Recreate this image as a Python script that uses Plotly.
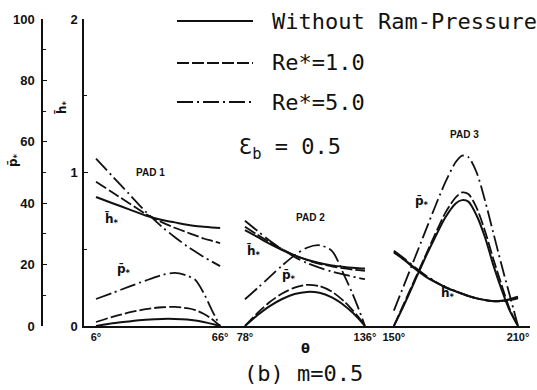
import plotly.graph_objects as go

# ---------------- data ----------------
theta_pad1 = [6, 14, 22, 30, 38, 44, 50, 54, 58, 62, 66]
p_pad1_none = [0.0, 0.9, 1.5, 2.0, 2.3, 2.3, 2.1, 1.8, 1.3, 0.7, 0.0]
p_pad1_re1 = [1.3, 3.0, 4.4, 5.5, 6.1, 6.2, 5.8, 5.2, 4.0, 2.3, 0.0]
p_pad1_re5 = [8.8, 10.8, 12.8, 14.8, 16.6, 17.3, 16.4, 15.0, 10.8, 5.2, 0.0]
h_pad1_none = [0.84, 0.80, 0.76, 0.72, 0.69, 0.675, 0.66, 0.652, 0.647, 0.642, 0.638]
h_pad1_re1 = [0.94, 0.87, 0.80, 0.73, 0.675, 0.64, 0.61, 0.59, 0.57, 0.555, 0.54]
h_pad1_re5 = [1.09, 0.975, 0.86, 0.745, 0.645, 0.58, 0.52, 0.485, 0.45, 0.42, 0.39]

theta_pad2 = [78, 84, 90, 96, 102, 108, 114, 120, 126, 130, 133, 136]
p_pad2_none = [0.0, 3.5, 6.5, 8.8, 10.4, 11.1, 10.8, 9.3, 6.7, 4.4, 2.3, 0.0]
p_pad2_re1 = [0.0, 4.2, 7.8, 10.6, 12.5, 13.4, 13.0, 11.2, 8.0, 5.2, 2.8, 0.0]
p_pad2_re5 = [8.7, 12.3, 16.0, 19.7, 23.0, 25.5, 26.3, 24.5, 16.5, 10.5, 5.5, 0.0]
h_pad2_none = [0.625, 0.58, 0.535, 0.495, 0.46, 0.432, 0.41, 0.395, 0.385, 0.38, 0.377, 0.375]
h_pad2_re1 = [0.647, 0.595, 0.545, 0.50, 0.46, 0.43, 0.405, 0.388, 0.375, 0.368, 0.364, 0.36]
h_pad2_re5 = [0.686, 0.62, 0.555, 0.50, 0.45, 0.41, 0.38, 0.355, 0.335, 0.322, 0.313, 0.306]

theta_pad3 = [150, 155, 160, 165, 170, 175, 180, 183, 186, 190, 194, 198, 202, 206, 210]
p_pad3_none = [0, 7, 14.5, 22, 29, 35.5, 40, 41, 40.5, 36, 29, 20, 12, 5, 0]
p_pad3_re1 = [0, 7.5, 15, 22.5, 30, 37, 42, 43.5, 43, 38.5, 31, 22, 13.5, 5.5, 0]
p_pad3_re5 = [5, 13.5, 22, 30.5, 39, 47, 53.5, 55.5, 55, 50, 41, 30.5, 20, 10, 0]
h_pad3_none = [0.48, 0.43, 0.375, 0.325, 0.285, 0.25, 0.225, 0.21, 0.195, 0.18, 0.17, 0.163, 0.165, 0.175, 0.19]
h_pad3_re1 = [0.485, 0.435, 0.38, 0.33, 0.288, 0.252, 0.226, 0.21, 0.196, 0.18, 0.169, 0.162, 0.163, 0.172, 0.185]
h_pad3_re5 = [0.49, 0.44, 0.385, 0.333, 0.29, 0.254, 0.227, 0.211, 0.196, 0.18, 0.168, 0.16, 0.161, 0.168, 0.18]

x_tick_vals = [6, 66, 78, 136, 150, 210]
x_tick_text = ["6°", "66°", "78°", "136°", "150°", "210°"]
p_tick_vals = [0, 20, 40, 60, 80, 100]
h_tick_vals = [0, 1, 2]

legend_labels = ["Without Ram-Pressure", "Re*=1.0", "Re*=5.0"]

# ---------------- styles ----------------
INK = "#111111"
STYLE = {
    "none": dict(color=INK, width=2.0, dash="solid"),
    "re1": dict(color=INK, width=1.8, dash="12px,3px"),
    "re5": dict(color=INK, width=1.8, dash="16px,4px,2px,4px"),
}

# page geometry (pixels)
W, H = 537, 390
ML, MR, MT, MB = 42, 7, 19, 64
PW = W - ML - MR
PH = H - MT - MB
BOTTOM = H - MB


def px(x):
    return (x - ML) / PW


def py(y):
    return (BOTTOM - y) / PH


fig = go.Figure()

pads = [
    (theta_pad1, p_pad1_none, p_pad1_re1, p_pad1_re5, h_pad1_none, h_pad1_re1, h_pad1_re5),
    (theta_pad2, p_pad2_none, p_pad2_re1, p_pad2_re5, h_pad2_none, h_pad2_re1, h_pad2_re5),
    (theta_pad3, p_pad3_none, p_pad3_re1, p_pad3_re5, h_pad3_none, h_pad3_re1, h_pad3_re5),
]
for th, pn, p1, p5, hn, h1, h5 in pads:
    for ys, key in ((pn, "none"), (p1, "re1"), (p5, "re5")):
        fig.add_trace(go.Scatter(x=th, y=ys, mode="lines", yaxis="y",
                                 line=dict(shape="spline", smoothing=0.8, **STYLE[key]),
                                 showlegend=False, hoverinfo="skip"))
    for ys, key in ((hn, "none"), (h1, "re1"), (h5, "re5")):
        fig.add_trace(go.Scatter(x=th, y=ys, mode="lines", yaxis="y2",
                                 line=dict(shape="spline", smoothing=0.8, **STYLE[key]),
                                 showlegend=False, hoverinfo="skip"))

tickfont = dict(family="Liberation Sans", size=13, color=INK, weight="bold")

fig.update_layout(
    width=W, height=H, autosize=False,
    margin=dict(l=ML, r=MR, t=MT, b=MB, pad=0),
    paper_bgcolor="white", plot_bgcolor="white",
    showlegend=False,
    xaxis=dict(domain=[px(84), 1], range=[0.2, 215.8], showline=True, linecolor=INK,
               linewidth=2, showgrid=False, zeroline=False, tickvals=x_tick_vals,
               ticktext=x_tick_text, ticks="", tickfont=dict(family="Liberation Sans", size=11,
               color=INK, weight="bold"), anchor="y"),
    yaxis=dict(range=[0, 100], anchor="free", position=0, side="left", showline=True,
               linecolor=INK, linewidth=1.5, showgrid=False, zeroline=False,
               tickvals=p_tick_vals, ticks="inside", ticklen=4, tickcolor=INK,
               tickfont=tickfont, ticklabelstandoff=4,
               minor=dict(dtick=10, ticks="inside", ticklen=3, tickcolor=INK)),
    yaxis2=dict(range=[0, 2], overlaying="y", anchor="x", side="left", showline=True,
                linecolor=INK, linewidth=1.5, showgrid=False, zeroline=False,
                tickvals=h_tick_vals, ticks="inside", ticklen=4, tickcolor=INK,
                tickfont=tickfont, ticklabelstandoff=2,
                minor=dict(dtick=0.5, ticks="inside", ticklen=3, tickcolor=INK)),
)

MONO = "DejaVu Sans Mono"
ann = []
# legend rows
rows_y = [21, 63, 102]
for lab, yy, key in zip(legend_labels, rows_y, ["none", "re1", "re5"]):
    fig.add_shape(type="line", xref="paper", yref="paper", x0=px(177), x1=px(253),
                  y0=py(yy), y1=py(yy), line=STYLE[key])
    ann.append(dict(text=lab, x=px(270), y=py(yy), xanchor="left", yanchor="middle",
                    font=dict(family=MONO, size=22, color=INK)))
ann.append(dict(text="Ɛ<sub>b</sub> = 0.5", x=px(237), y=py(148), xanchor="left",
                yanchor="middle", font=dict(family=MONO, size=22, color=INK)))

small = dict(family="Liberation Sans", size=10, color=INK, weight="bold")
lab = dict(family="DejaVu Sans", size=12, color=INK, weight="bold")
for t, x, y in [("PAD 1", 150, 172), ("PAD 2", 310, 217), ("PAD 3", 464, 134)]:
    ann.append(dict(text=t, x=px(x), y=py(y), xanchor="center", yanchor="middle", font=small))
for t, x, y in [("h̄<sub>*</sub>", 112, 219), ("p̄<sub>*</sub>", 124, 270),
                ("h̄<sub>*</sub>", 254, 251), ("p̄<sub>*</sub>", 289, 276),
                ("p̄<sub>*</sub>", 422, 202), ("h̄<sub>*</sub>", 448, 293)]:
    ann.append(dict(text=t, x=px(x), y=py(y), xanchor="center", yanchor="middle", font=lab))
# axis titles
ann.append(dict(text="p̄<sub>*</sub>", x=px(14), y=py(160), textangle=-90, xanchor="center",
                yanchor="middle", font=lab))
ann.append(dict(text="h̄<sub>*</sub>", x=px(62), y=py(107), textangle=-90, xanchor="center",
                yanchor="middle", font=lab))
ann.append(dict(text="θ", x=px(305), y=py(348), xanchor="center", yanchor="middle",
                font=dict(family="DejaVu Sans", size=13, color=INK, weight="bold")))
ann.append(dict(text="(b) m=0.5", x=px(303), y=py(373), xanchor="center", yanchor="middle",
                font=dict(family=MONO, size=22, color=INK)))
for a in ann:
    a.update(xref="paper", yref="paper", showarrow=False)
fig.update_layout(annotations=ann)

fig.write_html("out.html")
